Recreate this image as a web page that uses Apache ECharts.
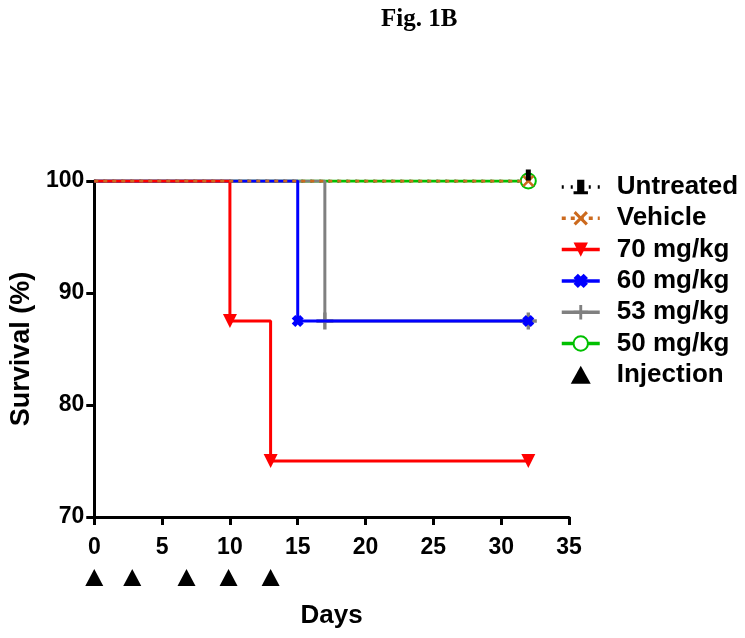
<!DOCTYPE html>
<html>
<head>
<meta charset="utf-8">
<script src="https://cdn.jsdelivr.net/npm/echarts@6/dist/echarts.min.js"></script>
<style>html,body{margin:0;padding:0;background:#fff;}#c{width:745px;height:638px;}</style>
</head>
<body>
<div id="c"></div>
<script>
// ---- data ----
const seriesNames = ['Untreated', 'Vehicle', '70 mg/kg', '60 mg/kg', '53 mg/kg', '50 mg/kg', 'Injection'];
const untreated = [[0, 100], [32, 100]];
const vehicle = [[0, 100], [32, 100]];
const mg70 = [[0, 100], [10, 87.5], [13, 75], [32, 75]];
const mg60 = [[0, 100], [15, 87.5], [32, 87.5]];
const mg53 = [[0, 100], [17, 87.5], [32, 87.5]];
const mg50 = [[0, 100], [32, 100]];
const injectionDays = [0, 2.8, 6.8, 9.9, 13];
const injectionLevel = 64.6;
const xTicks = [0, 5, 10, 15, 20, 25, 30, 35];
const yTicks = [70, 80, 90, 100];

// ---- helpers ----
function pts(arr) {
  return arr.map((p, i) => i === 0 ? { value: p, symbol: 'none' } : { value: p });
}
const FONT = 'Liberation Sans, Arial, sans-serif';
const X_PATH = 'path://M0,1.5 L1.5,0 L5,3.5 L8.5,0 L10,1.5 L6.5,5 L10,8.5 L8.5,10 L5,6.5 L1.5,10 L0,8.5 L3.5,5 Z';
const BOLDX_PATH = 'path://M0,3 L3,0 L5,2 L7,0 L10,3 L8,5 L10,7 L7,10 L5,8 L3,10 L0,7 L2,5 Z';
const PLUS_PATH = 'path://M4,0 L6,0 L6,4 L10,4 L10,6 L6,6 L6,10 L4,10 L4,6 L0,6 L0,4 L4,4 Z';
const BAR_PATH = 'path://M3,0 L7,0 L7,8 L9,8 L9,10 L1,10 L1,8 L3,8 Z';
const TRI_PATH = 'path://M5,0 L10,9 L0,9 Z';

function stepSeries(name, data, color, lw, ltype, symbol, size, extra) {
  return Object.assign({
    name: name, type: 'line', step: 'end', data: pts(data),
    lineStyle: { color: color, width: lw, type: ltype },
    itemStyle: { color: color },
    symbol: symbol, symbolSize: size, showSymbol: true,
    animation: false, z: 2
  }, extra || {});
}

const chart = echarts.init(document.getElementById('c'), null, { renderer: 'canvas' });
chart.setOption({
  animation: false,
  title: {
    text: 'Fig. 1B', left: 376, top: 2,
    textStyle: { fontFamily: 'Liberation Serif, Times New Roman, serif', fontWeight: 'bold', fontSize: 25, color: '#000' }
  },
  grid: { left: 92, right: 176, top: 181, bottom: 121, containLabel: false },
  legend: {
    orient: 'vertical', left: 555, top: 169,
    itemWidth: 38, itemHeight: 18, itemGap: 5.3,
    lineStyle: { width: 3.5 },
    data: seriesNames.map(n => n === 'Injection' ? { name: n, icon: TRI_PATH, itemStyle: { color: '#000', opacity: 1 } } : { name: n }),
    textStyle: { fontFamily: FONT, fontWeight: 'bold', fontSize: 26, color: '#000', lineHeight: 26, padding: [0, 0, 0, 12] }
  },
  xAxis: {
    type: 'value', min: 0, max: 35, interval: 5,
    name: 'Days', nameLocation: 'middle', nameGap: 86,
    nameTextStyle: { fontFamily: FONT, fontWeight: 'bold', fontSize: 26, color: '#000' },
    axisLine: { show: true, onZero: false, lineStyle: { color: '#000', width: 3 } },
    axisTick: { show: true, inside: false, length: 8, lineStyle: { color: '#000', width: 3 } },
    axisLabel: { margin: 19, fontFamily: FONT, fontWeight: 'bold', fontSize: 23, color: '#000',
      formatter: v => xTicks.includes(v) ? String(v) : '' },
    splitLine: { show: false }
  },
  yAxis: {
    type: 'value', min: 70, max: 100, interval: 10,
    name: 'Survival (%)', nameLocation: 'middle', nameGap: 57,
    nameTextStyle: { fontFamily: FONT, fontWeight: 'bold', fontSize: 27, color: '#000' },
    axisLine: { show: true, onZero: false, lineStyle: { color: '#000', width: 3 } },
    axisTick: { show: true, inside: false, length: 8, lineStyle: { color: '#000', width: 3 } },
    axisLabel: { margin: 10, fontFamily: FONT, fontWeight: 'bold', fontSize: 23, color: '#000',
      formatter: v => yTicks.includes(v) ? String(v) : '' },
    splitLine: { show: false }
  },
  series: [
    stepSeries('Untreated', untreated, '#000000', 3, [2, 7], BAR_PATH, [12, 12], { z: 1 }),
    stepSeries('50 mg/kg', mg50, '#00C000', 3, 'solid', 'emptyCircle', 15, { itemStyle: { color: '#00C000', borderWidth: 5, borderColor: '#00C000' }, z: 3 }),
    stepSeries('53 mg/kg', mg53, '#808080', 3, 'solid', PLUS_PATH, 17, { z: 4 }),
    stepSeries('60 mg/kg', mg60, '#0000FF', 3, 'solid', BOLDX_PATH, 12, { z: 5 }),
    stepSeries('70 mg/kg', mg70, '#FF0000', 3, 'solid', 'triangle', 14, { symbolRotate: 180, z: 5 }),
    stepSeries('Vehicle', vehicle, '#CC6A1E', 3, [4, 5], X_PATH, 12, { z: 6 }),
    {
      name: 'Untreated', type: 'scatter', clip: false,
      data: untreated.slice(1),
      symbol: 'rect', symbolSize: [5, 11], symbolOffset: [0, -6],
      itemStyle: { color: '#000', opacity: 1 }, z: 8
    },
    {
      name: 'Injection', type: 'scatter', clip: false,
      data: injectionDays.map(d => [d, injectionLevel]),
      symbol: 'triangle', symbolSize: [18, 17],
      itemStyle: { color: '#000', opacity: 1 }, z: 6
    }
  ]
});
</script>
</body>
</html>
